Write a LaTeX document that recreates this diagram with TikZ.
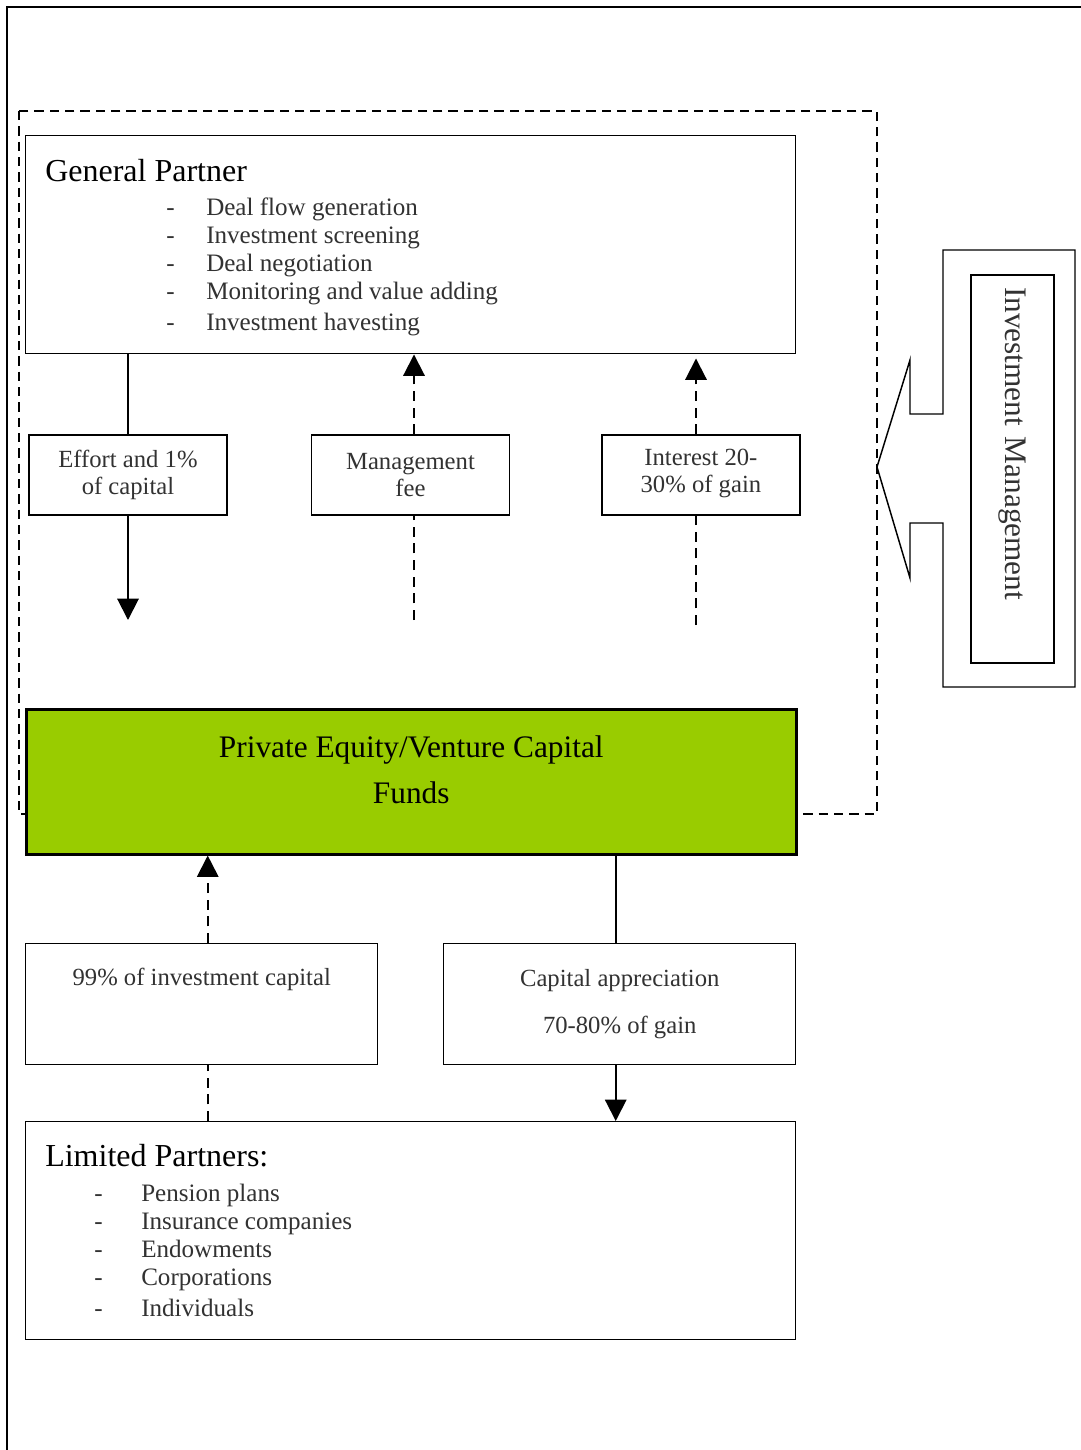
\documentclass[tikz,border=0pt]{standalone}
\usepackage{fontspec}
\setmainfont{Liberation Serif}
\usetikzlibrary{arrows.meta, positioning}
\definecolor{FundGreen}{RGB}{153, 204, 0}
\definecolor{TextGray}{RGB}{50, 50, 50}
\tikzset{
  box/.style={rectangle, draw=black, line width=1.1pt, fill=white, inner sep=0pt,
              align=center, text=TextGray, font=\fontsize{18.5}{20.5}\selectfont},
  fundbox/.style={rectangle, draw=black, line width=1.9pt, fill=FundGreen, inner sep=0pt},
  head/.style={anchor=base west, inner sep=0pt, font=\fontsize{24}{28}\selectfont},
  item/.style={anchor=base west, inner sep=0pt, text=TextGray, font=\fontsize{18.8}{22}\selectfont},
  arr/.style={-{Triangle[length=16pt, width=16pt]}, line width=1.5pt},
  dasharr/.style={arr, dash pattern=on 7.5pt off 5pt},
  dashln/.style={line width=1.5pt, dash pattern=on 7.5pt off 5pt},
}
\begin{document}
\begin{tikzpicture}[x=0.75pt, y=-0.75pt]
  \useasboundingbox (0,0) rectangle (1081,1450);

  %% page frame
  \draw[line width=1.5pt] (7,1450) -- (7,7) -- (1081,7);

  %% investment management frame (dashed)
  \draw[line width=1.5pt, dash pattern=on 7pt off 4.5pt] (19,111) rectangle (877,814);

  %% GENERAL PARTNER
  \node[box, anchor=north west, minimum width=577.5pt, minimum height=163.5pt] (gp) at (25,135) {};
  \node[head] (gptitle) at (45,181) {General Partner};
  \foreach \y/\t [count=\i] in {215/Deal flow generation, 243/Investment screening,
      271/Deal negotiation, 299/Monitoring and value adding, 330/Investment havesting} {
    \node[item] (gpdash\i) at (166,\y) {-};
    \node[item] (gpitem\i) at (206,\y) {\t};
  }

  %% FLOW BOXES
  \node[box, minimum width=148.5pt, minimum height=60pt] (effort) at (128,475)
       {Effort and 1\%\\of capital};
  \node[box, minimum width=148.5pt, minimum height=60pt, right=62.25pt of effort] (mgmtfee)
       {Management\\fee};
  \node[box, minimum width=148.5pt, minimum height=60pt, right=68.25pt of mgmtfee] (carry)
       {Interest 20-\\30\% of gain\strut};

  \coordinate (effortend) at (128,620);
  \coordinate (feestart) at (414,620);
  \coordinate (carrystart) at (696,625);

  \draw[line width=1.5pt] (gp.south -| effort) -- (effort.north);
  \draw[arr] (effort.south) -- (effortend);
  \draw[dashln] (feestart) -- (mgmtfee.south -| feestart);
  \draw[dasharr] (mgmtfee.north -| feestart) -- (gp.south -| feestart);
  \draw[dashln] (carrystart) -- (carry.south -| carrystart);
  \draw[dasharr] (carry.north -| carrystart) -- ([yshift=-3pt]gp.south -| carrystart);

  %% FUND
  \node[fundbox, anchor=north west, minimum width=577.5pt, minimum height=108.75pt] (fund) at (25,708) {};
  \node[align=center, font=\fontsize{23.5}{35}\selectfont, inner sep=0pt] (fundlabel)
       at ([yshift=9pt]fund.center) {Private Equity/Venture Capital\\Funds};

  %% INVESTMENT MANAGEMENT
  \draw[line width=1.1pt, fill=white] (943,250) -- (1075,250) -- (1075,687) -- (943,687)
       -- (943,523) -- (910,523) -- (910,578) -- (877,467) -- (910,360) -- (910,414)
       -- (943,414) -- cycle;
  \node[box, rotate=-90, minimum height=62.25pt, inner xsep=9pt, text width=273pt,
        align=left, font=\fontsize{23.5}{28}\selectfont] (invmgmt) at (1012.5,469)
       {Investment Management};

  %% CAPITAL BOXES
  \node[box, anchor=north west, minimum width=264pt, minimum height=90.75pt] (invcap) at (25,943) {};
  \node[box, draw=none, fill=none, below=27.5pt of invcap.north, anchor=center] (invcaplabel)
       {99\% of investment capital};
  \node[box, anchor=north west, minimum width=264pt, minimum height=90.75pt,
        font=\fontsize{18.5}{35}\selectfont] (capapp) at (443,943)
       {Capital appreciation\\70-80\% of gain};

  %% LIMITED PARTNERS
  \node[box, anchor=north west, minimum width=577.5pt, minimum height=163.5pt] (lp) at (25,1121) {};
  \node[head] (lptitle) at (45,1166) {Limited Partners:};
  \foreach \y/\t [count=\i] in {1201/Pension plans, 1229/Insurance companies,
      1257/Endowments, 1285/Corporations, 1316/Individuals} {
    \node[item] (lpdash\i) at (94,\y) {-};
    \node[item] (lpitem\i) at (141,\y) {\t};
  }

  \draw[dasharr] ([xshift=4.5pt]invcap.north) -- ([xshift=4.5pt]invcap.north |- fund.south);
  \draw[dashln] ([xshift=4.5pt]lp.north -| invcap) -- ([xshift=4.5pt]invcap.south);
  \draw[line width=1.5pt] ([xshift=-3pt]capapp.north |- fund.south) -- ([xshift=-3pt]capapp.north);
  \draw[arr] ([xshift=-3pt]capapp.south) -- ([xshift=-3pt]capapp.south |- lp.north);

\end{tikzpicture}
\end{document}
